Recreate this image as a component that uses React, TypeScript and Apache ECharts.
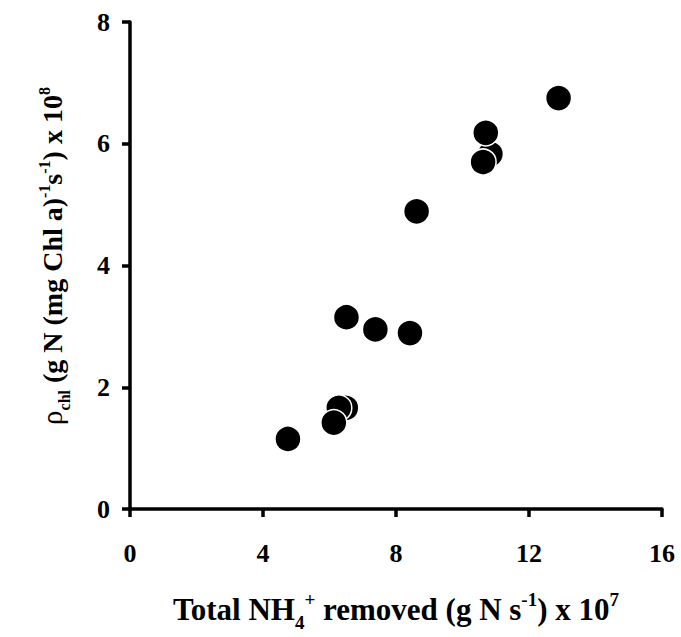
import React, { useEffect, useRef } from "react";
import * as echarts from "echarts";

const xValues = [12.89, 10.84, 10.70, 10.62, 8.62, 6.51, 7.38, 8.42, 6.49, 6.28, 6.13, 4.75];
const yValues = [6.75, 5.83, 6.18, 5.70, 4.89, 3.15, 2.95, 2.89, 1.66, 1.66, 1.42, 1.15];
const xTicks = [0, 4, 8, 12, 16];
const yTicks = [0, 2, 4, 6, 8];

const FONT = "'Liberation Serif', 'Times New Roman', serif";

export default function App() {
  const ref = useRef<HTMLDivElement>(null);
  useEffect(() => {
    if (!ref.current) return;
    const chart = echarts.init(ref.current, null, { renderer: "svg" });
    const data = xValues.map((x, i) => [x, yValues[i]]);
    const mainX = { fontFamily: FONT, fontWeight: "bold", fontSize: 31, color: "#000", lineHeight: 36, verticalAlign: "bottom" };
    const supX = { fontFamily: FONT, fontWeight: "bold", fontSize: 19, color: "#000", lineHeight: 36, verticalAlign: "top", padding: [1, 0, 0, 0] };
    const subX = { fontFamily: FONT, fontWeight: "bold", fontSize: 19, color: "#000", lineHeight: 30, verticalAlign: "bottom", padding: [0, 0, -7, 0] };
    const main = { fontFamily: FONT, fontWeight: "bold", fontSize: 28, color: "#000", lineHeight: 32, verticalAlign: "bottom" };
    const sup = { fontFamily: FONT, fontWeight: "bold", fontSize: 16, color: "#000", lineHeight: 32, verticalAlign: "top", padding: [2, 0, 0, 0] };
    const sub = { fontFamily: FONT, fontWeight: "bold", fontSize: 16, color: "#000", lineHeight: 26, verticalAlign: "bottom", padding: [0, 0, -6, 0] };
    const rho = { fontFamily: FONT, fontWeight: "normal", fontSize: 29, color: "#000", lineHeight: 32, verticalAlign: "bottom" };
    chart.setOption({
      animation: false,
      grid: { left: 130, right: 19, top: 22, bottom: 114, containLabel: false },
      xAxis: {
        type: "value",
        min: 0,
        max: 16,
        interval: 4,
        splitLine: { show: false },
        axisLine: { show: true, lineStyle: { color: "#000", width: 3.5 } },
        axisTick: { show: true, inside: false, length: 8, lineStyle: { color: "#000", width: 3.5 } },
        axisLabel: {
          fontFamily: FONT, fontWeight: "bold", fontSize: 26, color: "#000", margin: 31,
          formatter: (v: number) => (xTicks.includes(v) ? String(v) : ""),
        },
        name: "{m|Total NH}{s|4}{p|+}{m| removed (g N s}{p|-1}{m|) x 10}{p|7}",
        nameLocation: "middle",
        nameGap: 80,
        nameTextStyle: { rich: { m: mainX, s: subX, p: supX } },
      },
      yAxis: {
        type: "value",
        min: 0,
        max: 8,
        interval: 2,
        splitLine: { show: false },
        axisLine: { show: true, lineStyle: { color: "#000", width: 3.5 } },
        axisTick: { show: true, inside: false, length: 8, lineStyle: { color: "#000", width: 3.5 } },
        axisLabel: {
          fontFamily: FONT, fontWeight: "bold", fontSize: 26, color: "#000", margin: 20,
          formatter: (v: number) => (yTicks.includes(v) ? String(v) : ""),
        },
      },
      graphic: [
        {
          type: "text",
          x: 50,
          y: 256,
          rotation: Math.PI / 2,
          style: {
            text: "{r|ρ}{s|chl}{m| (g N (mg Chl a)}{p|-1}{m|s}{p|-1}{m|) x 10}{p|8}",
            rich: { m: main, s: sub, p: sup, r: rho },
            align: "center",
            verticalAlign: "middle",
          },
        },
      ],
      series: [
        {
          type: "scatter",
          data,
          symbol: "circle",
          symbolSize: 26,
          itemStyle: { color: "#000", borderColor: "#fff", borderWidth: 1.5, opacity: 1 },
          emphasis: { disabled: true },
        },
      ],
    });
    return () => chart.dispose();
  }, []);
  return <div ref={ref} style={{ width: 681, height: 637, position: "absolute", left: 0, top: 0, background: "#fff" }} />;
}
